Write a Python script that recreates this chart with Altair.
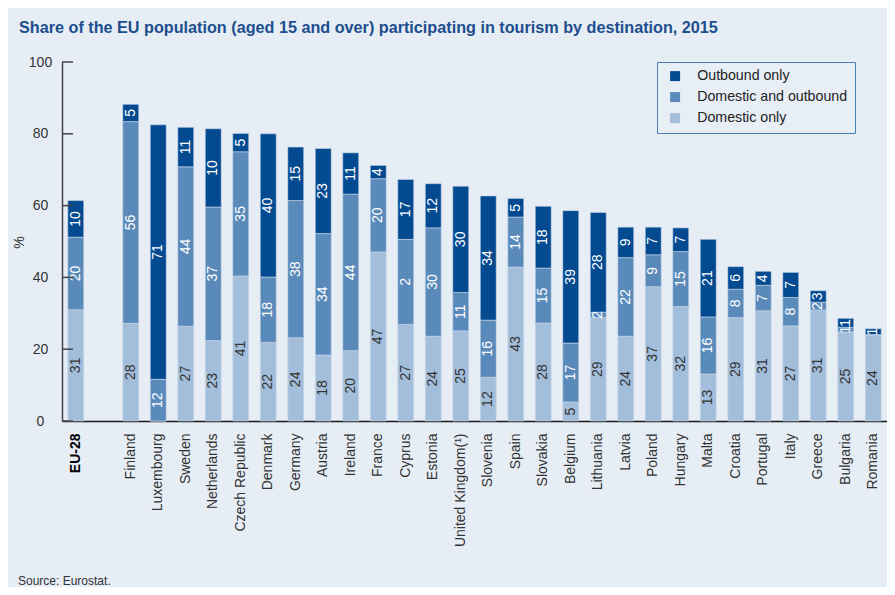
import altair as alt
import pandas as pd

FONT = "Liberation Sans, Arial, Helvetica, sans-serif"

countries = ["EU-28", "Finland", "Luxembourg", "Sweden", "Netherlands", "Czech Republic",
             "Denmark", "Germany", "Austria", "Ireland", "France", "Cyprus", "Estonia",
             "United Kingdom(¹)", "Slovenia", "Spain", "Slovakia", "Belgium", "Lithuania",
             "Latvia", "Poland", "Hungary", "Malta", "Croatia", "Portugal", "Italy",
             "Greece", "Bulgaria", "Romania"]

domestic_only = [31.0, 27.2, 0.0, 26.4, 22.4, 40.4, 21.9, 23.2, 18.4, 19.6, 47.1, 26.9, 23.6,
                 25.1, 12.2, 42.9, 27.3, 5.3, 28.8, 23.6, 37.4, 31.9, 13.1, 28.8, 30.7, 26.5,
                 30.9, 24.8, 23.9]
domestic_and_outbound = [20.2, 56.2, 11.6, 44.4, 37.2, 34.6, 18.2, 38.2, 33.8, 43.6, 20.4, 23.7,
                         30.2, 10.7, 15.9, 13.9, 15.3, 16.4, 1.5, 21.9, 8.9, 15.3, 15.9, 7.9,
                         7.1, 7.9, 2.2, 1.3, 0.2]
outbound_only = [10.2, 4.8, 70.9, 11.0, 21.8, 5.1, 39.9, 14.9, 23.7, 11.5, 3.7, 16.7, 12.3,
                 29.6, 34.6, 5.2, 17.2, 36.9, 27.8, 8.5, 7.7, 6.6, 21.6, 6.3, 3.9, 7.0,
                 3.2, 2.5, 1.6]

labels_domestic = ["31", "28", "", "27", "23", "41", "22", "24", "18", "20", "47", "27", "24",
                   "25", "12", "43", "28", "5", "29", "24", "37", "32", "13", "29", "31", "27",
                   "31", "25", "24"]
labels_both = ["20", "56", "12", "44", "37", "35", "18", "38", "34", "44", "20", "2", "30",
               "11", "16", "14", "15", "17", "2", "22", "9", "15", "16", "8", "7", "8",
               "2", "1", ""]
labels_outbound = ["10", "5", "71", "11", "10", "5", "40", "15", "23", "11", "4", "17", "12",
                   "30", "34", "5", "18", "39", "28", "9", "7", "7", "21", "6", "4", "7",
                   "3", "1", "1"]

series = ["Domestic only", "Domestic and outbound", "Outbound only"]
colors = ["#a3bedb", "#5a8aba", "#034a91"]
y_ticks = [0, 20, 40, 60, 80, 100]

title_text = "Share of the EU population (aged 15 and over) participating in tourism by destination, 2015"
source_text = "Source:  Eurostat."

rows = []
for i, c in enumerate(countries):
    base = 0.0
    for k, (vals, lbls) in enumerate([(domestic_only, labels_domestic),
                                      (domestic_and_outbound, labels_both),
                                      (outbound_only, labels_outbound)]):
        v = vals[i]
        rows.append(dict(country=c, series=series[k], order=k, y0=base, y1=base + v,
                         mid=base + v / 2, label=lbls[i]))
        base += v
df = pd.DataFrame(rows)

x_domain = [countries[0], " "] + countries[1:]

x_enc = alt.X("country:N", sort=x_domain,
              scale=alt.Scale(domain=x_domain, paddingInner=0.42, paddingOuter=0.21),
              axis=alt.Axis(title=None, ticks=False, labelAngle=270, labelPadding=12,
                            labelFontSize=14, labelFont=FONT,
                            labelColor=alt.condition("datum.value == 'EU-28'", alt.value("#000000"), alt.value("#333333")),
                            labelFontWeight=alt.condition("datum.value == 'EU-28'", alt.value("bold"), alt.value("normal")),
                            domainColor="#1a1a1a", domainWidth=1.5, labelOverlap=False))

y_scale = alt.Scale(domain=[0, 100], nice=False)

bars = alt.Chart(df).mark_bar(stroke="#cbd9ea", strokeWidth=0.6).encode(
    x=x_enc,
    y=alt.Y("y0:Q", scale=y_scale,
            axis=alt.Axis(values=y_ticks, ticks=False, grid=False, domainColor="#444444",
                          domainWidth=1.5, labelFontSize=14, labelFont=FONT, labelColor="#333333",
                          labelAlign="center", labelPadding=22, title="%", titleX=-43, titleY=180,
                          titleFontSize=14, titleFont=FONT, titleFontWeight="normal",
                          titleColor="#333333", titleAlign="center", titleBaseline="middle")),
    y2="y1:Q",
    color=alt.Color("series:N",
                    scale=alt.Scale(domain=[series[2], series[1], series[0]],
                                    range=[colors[2], colors[1], colors[0]]),
                    legend=alt.Legend(orient="none", legendX=595, legendY=0, title=None,
                                      symbolType="square", symbolSize=100, symbolStrokeWidth=0,
                                      symbolOffset=4,
                                      labelFontSize=14.2, labelFont=FONT, labelColor="#222222",
                                      labelOffset=15, rowPadding=6, padding=7,
                                      strokeColor="#4a7db5", fillColor="#e8eef6")),
    order=alt.Order("order:Q"),
)

texts = alt.Chart(df).mark_text(angle=270, fontSize=14, font=FONT).encode(
    x=alt.X("country:N", sort=x_domain, scale=alt.Scale(domain=x_domain)),
    y=alt.Y("mid:Q", scale=y_scale),
    text="label:N",
    color=alt.condition("datum.order == 0", alt.value("#333333"), alt.value("#ffffff")),
)

ticks = alt.Chart(pd.DataFrame({"t": y_ticks})).mark_rule(color="#444444", strokeWidth=1.5).encode(
    y=alt.Y("t:Q", scale=y_scale),
    x=alt.value(0), x2=alt.value(11),
)

title = alt.Chart(pd.DataFrame({"t": [title_text]})).mark_text(
    align="left", baseline="alphabetic", fontSize=16.2, fontWeight="bold", font=FONT,
    color="#1d4e8e").encode(x=alt.value(-43), y=alt.value(-29.5), text="t:N")

source = alt.Chart(pd.DataFrame({"t": [source_text]})).mark_text(
    align="left", baseline="alphabetic", fontSize=12, font=FONT,
    color="#333333").encode(x=alt.value(-44), y=alt.value(523), text="t:N")

chart = alt.layer(bars, texts, ticks, title, source).properties(
    width=825, height=359,
    padding={"left": 54, "top": 54, "right": 0, "bottom": 166},
    autosize=alt.AutoSizeParams(type="none"),
).configure(background="#e6edf5").configure_view(stroke=None)

chart.save("out.html", embed_options={"renderer": "svg", "actions": False})
